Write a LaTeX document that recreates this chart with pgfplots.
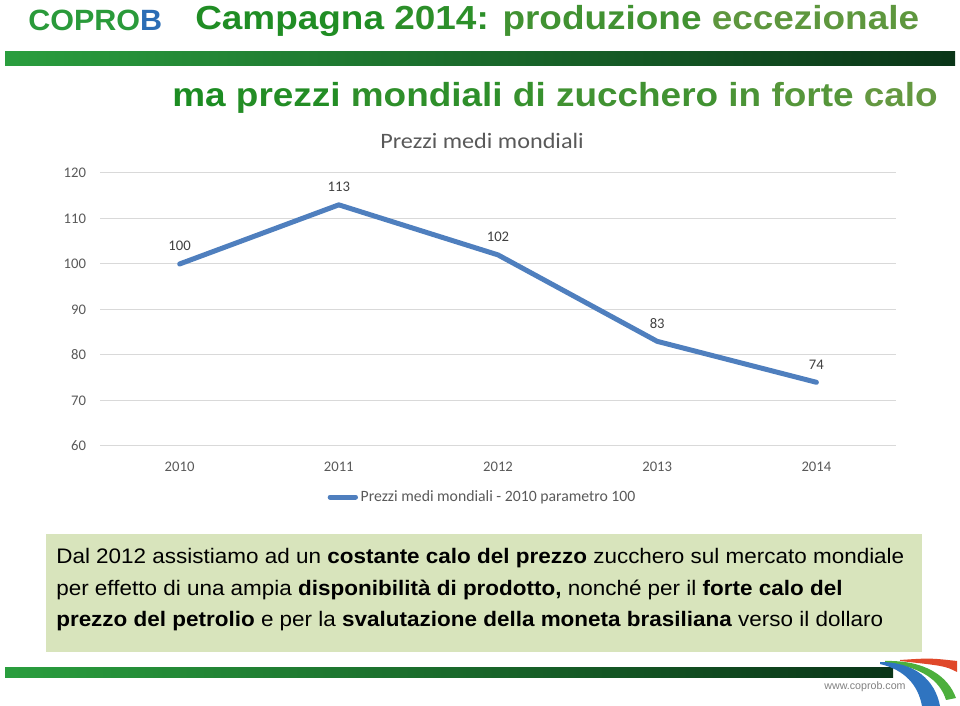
\documentclass[border=0pt]{standalone}
\usepackage{fontspec}
\setmainfont{Liberation Sans}
\newfontfamily\calibri{Carlito}
\usepackage{pgfplots}
\pgfplotsset{compat=1.18}

\definecolor{lineblue}{HTML}{4F7FBE}
\definecolor{gridgray}{HTML}{D9D9D9}
\definecolor{txtgray}{HTML}{595959}
\definecolor{lblgray}{HTML}{404040}
\definecolor{boxgreen}{HTML}{D8E4BC}
\definecolor{tgA}{HTML}{1C8C22}
\definecolor{tgB}{HTML}{6E9A45}
\definecolor{barA}{HTML}{2A9E3E}
\definecolor{barB}{HTML}{0A3518}
\definecolor{logogreen}{HTML}{2A9A3A}
\definecolor{logoblue}{HTML}{2B6DB5}
\definecolor{swred}{HTML}{E0482A}
\definecolor{swgreen}{HTML}{4CAF3C}
\definecolor{swblue}{HTML}{2F74C0}
\newcommand\tw[2]{\textcolor{tgB!#1!tgA}{#2}}

\begin{document}
\begin{tikzpicture}[x=0.75pt,y=0.75pt]
\useasboundingbox (0,0) rectangle (960,706);

% header
\node[anchor=base west, inner sep=0, xscale=1.04, font=\bfseries\fontsize{22}{26}\selectfont]
  at (28,675) {\textcolor{logogreen}{COPRO}\textcolor{logoblue}{B}};
\node[anchor=base west, inner sep=0, xscale=1.108, font=\bfseries\fontsize{25}{30}\selectfont]
  at (195,676) {\tw{5}{Campagna} \tw{20}{2014:} \tw{45}{produzione} \tw{80}{eccezionale}};
\shade[left color=barA, middle color=barA!75!barB, right color=barB] (5,640) rectangle (955,654);
\node[anchor=base west, inner sep=0, xscale=1.108, font=\bfseries\fontsize{25}{30}\selectfont]
  at (172,599) {\tw{0}{ma} \tw{8}{prezzi} \tw{22}{mondiali} \tw{33}{di} \tw{45}{zucchero} \tw{58}{in} \tw{70}{forte} \tw{88}{calo}};

% chart
\node[xscale=1.1, font=\calibri\fontsize{16.5}{19}\selectfont, text=txtgray] at (482,565) {Prezzi medi mondiali};

\begin{axis}[
    at={(75pt,195pt)}, anchor=south west,
    scale only axis, width=597pt, height=204.75pt,
    xmin=-0.5, xmax=4.5, ymin=60, ymax=120,
    xtick={0,1,2,3,4}, xticklabels={2010,2011,2012,2013,2014},
    ytick={60,70,...,120},
    ymajorgrids, major grid style={draw=gridgray, line width=0.75pt},
    axis line style={draw=none}, major tick length=0pt,
    /pgf/number format/assume math mode=true,
    ticklabel style={font=\calibri\fontsize{11}{13}\selectfont, text=txtgray},
    yticklabel style={anchor=east, xshift=-7pt},
    xticklabel style={anchor=center, yshift=-15.75pt},
    nodes near coords,
    every node near coord/.append style={font=\calibri\fontsize{11}{13}\selectfont,
        text=lblgray, anchor=center, yshift=13.5pt},
    legend style={at={(0.481,-0.187)}, anchor=center, draw=none, fill=none,
        font=\calibri\fontsize{11.8}{14}\selectfont, text=txtgray},
    legend image code/.code={\draw[#1, line width=3.75pt, line cap=round] (0pt,0pt) -- (19pt,0pt);},
]
\addplot[lineblue, line width=3.75pt, line cap=round, line join=round, no markers]
  coordinates {(0,100) (1,113) (2,102) (3,83) (4,74)};
\addlegendentry{Prezzi medi mondiali - 2010 parametro 100}
\end{axis}

% comment box
\fill[boxgreen] (46,54) rectangle (922,172);
\node[anchor=base west, inner sep=0, xscale=1.07, font=\fontsize{15.75}{18}\selectfont] at (56,142)
  {Dal 2012 assistiamo ad un \textbf{costante calo del prezzo} zucchero sul mercato mondiale};
\node[anchor=base west, inner sep=0, xscale=1.07, font=\fontsize{15.75}{18}\selectfont] at (56,110)
  {per effetto di una ampia \textbf{disponibilità di prodotto,} nonché per il \textbf{forte calo del}};
\node[anchor=base west, inner sep=0, xscale=1.07, font=\fontsize{15.75}{18}\selectfont] at (56,79)
  {\textbf{prezzo del petrolio} e per la \textbf{svalutazione della moneta brasiliana} verso il dollaro};

% footer
\shade[left color=barA, middle color=barA!60!barB, right color=barB] (5,28) rectangle (893,38);
\fill[swred] (900,46) .. controls (930,48) .. (957,45) -- (957,34) .. controls (945,40) .. (900,45) -- cycle;
\fill[swgreen] (885,45) .. controls (925,46) and (948,30) .. (956,8) -- (946,6) .. controls (940,26) and (920,40) .. (885,43) -- cycle;
\fill[swblue] (880,44) .. controls (915,44) and (935,26) .. (940,0) -- (922,0) .. controls (918,21) and (905,36) .. (880,42) -- cycle;
\node[font=\fontsize{8}{10}\selectfont, text=gray] at (865,19) {www.coprob.com};
\end{tikzpicture}
\end{document}
